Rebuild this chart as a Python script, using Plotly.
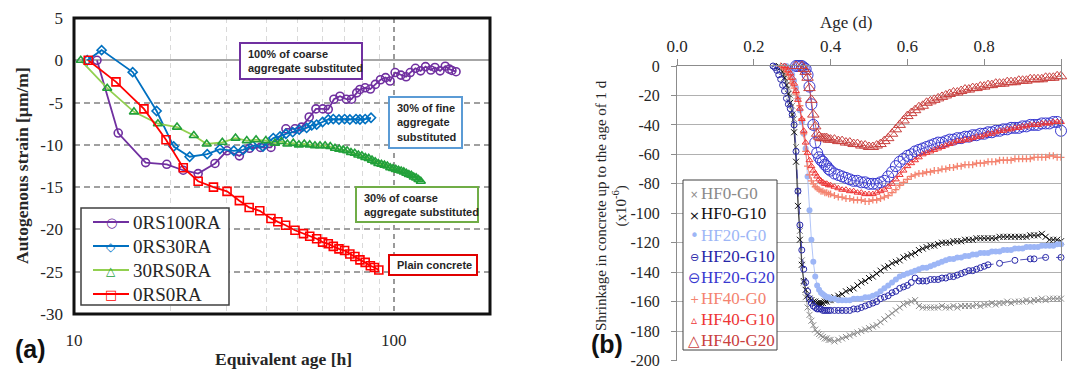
import math
import plotly.graph_objects as go

W, H = 1070, 371
SERIF = "Liberation Serif, Times New Roman, serif"
SANS = "Liberation Sans, Arial, sans-serif"
SYMF = "DejaVu Sans, sans-serif"

# ---------------- panel (a): autogenous strain vs equivalent age ----------------
age_100ra = [11.8, 13.75, 16.75, 19.5, 21.95, 24.45, 27.6, 30.1, 32.9, 35.4, 38.3, 41.3,
             46.0, 49.1, 51.5, 54.4, 57.1, 60.0, 62.4, 65.0, 67.9, 71.1, 73.8, 76.6, 78.4,
             81.4, 84.5, 87.6, 90.9, 94.3, 97.4, 101.0, 105.3, 109.3, 112.6, 116.9, 121.3,
             125.7, 130.6, 134.5, 139.6, 144.9, 149.2, 152.0, 156.6]
strain_100ra = [0, -8.6, -12.1, -12.3, -13.0, -13.4, -12.2, -10.7, -11.3, -10.4, -10.3, -10.3,
                -8.1, -8.1, -7.9, -6.7, -5.75, -5.75, -5.8, -4.6, -4.25, -4.6, -4.6, -3.85, -3.45,
                -3.25, -3.4, -2.85, -2.3, -2.05, -2.45, -1.45, -1.75, -1.95, -1.45, -0.95, -1.25,
                -0.75, -1.15, -0.85, -1.25, -0.7, -1.05, -1.2, -1.35]

age_30ra = [11.0, 12.2, 15.26, 18.13, 20.5, 23.0, 26.1, 28.6, 31.6, 33.8, 36.2, 39.0, 42.0,
            44.1, 46.0, 48.3, 50.6, 53.4, 55.4, 57.4, 59.9, 62.4, 64.7, 67.4, 70.2, 72.9, 76.2,
            78.4, 81.4, 84.9]
strain_30ra = [0, 1.2, -1.4, -6.0, -10.2, -11.4, -11.1, -10.5, -10.7, -10.6, -10.1, -10.2, -9.2,
               -9.0, -8.7, -8.5, -8.2, -8.0, -7.7, -7.6, -7.3, -7.0, -6.95, -7.0, -6.95, -7.0, -6.95,
               -7.0, -6.95, -6.8]

age_30rs = [10.5, 12.7, 15.4, 18.3, 21.0, 23.7, 26.0, 29.1, 32.0, 34.7, 37.1, 39.8, 42.5, 44.5,
            46.5, 48.5, 50.5, 52.5, 54.6, 56.7, 58.8, 61.0, 63.3, 65.5, 67.5, 69.5, 71.5, 73.5,
            75.5, 77.5, 79.5, 81.5, 83.5, 85.5, 87.5, 89.5, 91.5, 93.5, 95.5, 97.5, 99.5, 101.5,
            103.5, 105.5, 107.5, 109.5, 111.5, 113.5, 115.5, 117.5, 119.5, 121.5]
strain_30rs = [0, -3.3, -6.1, -7.5, -7.9, -8.9, -9.9, -9.7, -9.2, -9.5, -9.4, -9.5, -9.8, -9.6,
               -9.9, -9.8, -10.0, -9.9, -10.0, -10.1, -10.1, -10.1, -10.2, -10.4, -10.5, -10.6,
               -10.7, -10.9, -11.0, -11.2, -11.3, -11.5, -11.6, -11.8, -12.0, -12.2, -12.3, -12.4,
               -12.5, -12.7, -12.8, -12.9, -13.0, -13.1, -13.2, -13.35, -13.5, -13.6, -13.8,
               -13.9, -14.1, -14.3]

age_plain = [11.08, 13.53, 16.55, 19.4, 21.96, 24.45, 27.3, 30.1, 32.9, 35.3, 38.1, 41.3, 43.4,
             45.9, 49.1, 52.2, 54.6, 57.4, 59.9, 62.4, 64.7, 67.4, 70.2, 72.9, 75.6, 78.4, 81.4,
             84.5, 87.0, 89.8]
strain_plain = [0, -2.55, -5.75, -9.4, -12.7, -14.3, -15.0, -15.5, -16.6, -17.4, -17.8, -18.7,
                -19.1, -19.5, -20.1, -20.5, -20.8, -21.1, -21.5, -21.7, -22.0, -22.3, -22.5, -22.9,
                -23.2, -23.6, -23.9, -24.3, -24.5, -24.8]

a_xtick_vals = [10, 100]
a_xtick_text = ["10", "100"]
a_xminor_vals = [20, 30, 40, 50, 60, 70, 80, 90]
a_ytick_vals = [5, 0, -5, -10, -15, -20, -25, -30]
a_ytick_text = ["5", "0", "-5", "-10", "-15", "-20", "-25", "-30"]

# ---------------- panel (b): shrinkage up to 1 day ----------------
age_d = [0.250, 0.255, 0.260, 0.265, 0.270, 0.275, 0.280, 0.285, 0.290, 0.295,
         0.300, 0.305, 0.310, 0.315, 0.320, 0.325, 0.330, 0.335, 0.340, 0.345,
         0.350, 0.355, 0.360, 0.365, 0.370, 0.375, 0.380, 0.385, 0.390, 0.395,
         0.400,
         0.41, 0.42, 0.43, 0.44, 0.45, 0.46, 0.47, 0.48, 0.49, 0.50,
         0.51, 0.52, 0.53, 0.54, 0.55, 0.56, 0.57, 0.58, 0.59, 0.60,
         0.61, 0.62, 0.63, 0.64, 0.65, 0.66, 0.67, 0.68, 0.69, 0.70,
         0.71, 0.72, 0.73, 0.74, 0.75, 0.76, 0.77, 0.78, 0.79, 0.80,
         0.81, 0.82, 0.83, 0.84, 0.85, 0.86, 0.87, 0.88, 0.89, 0.90,
         0.91, 0.92, 0.93, 0.94, 0.95, 0.96, 0.97, 0.98, 0.99, 1.00]

hf0_g0 = [None, None, None, 0, -1, -3, -6, -10, -15, -20,
          -27, -36, -55, -85, -112, -132, -147, -157, -164, -169,
          -173, -176, -179, -181, -182, -183, -184, -185, -185, -186,
          -186,
          -187, -186, -185, -184, -183, -182, -181, -180, -179, -178,
          -177, -176, -174, -172, -170, -168, -166, -164, -162, -161,
          -160, -159, -163, -164, -164, -164, -164, -164, -163, -164,
          -164, -163, -164, -163, -163, -163, -163, -162, -163, -162,
          -162, -161, -162, -161, -161, -160, -161, -160, -160, -160,
          -159, -160, -159, -159, -158, -159, -158, -158, -158, -158]

hf0_g10 = [None, None, None, 0, -1, -4, -8, -13, -19, -25,
           -33, -45, -65, -95, -118, -135, -146, -152, -156, -158,
           -159, -160, -160, -161, -161, -161, -161, -160, -160, -159,
           -159,
           -157, -156, -155, -153, -152, -151, -149, -147, -146, -144,
           -143, -141, -139, -137, -136, -134, -133, -132, -130, -129,
           -128, -127, -125, -124, -123, -122, -122, -121, -120, -120,
           -120, -119, -119, -119, -118, -118, -118, -117, -117, -117,
           -117, -117, -117, -116, -116, -116, -116, -116, -116, -116,
           -116, -115, -115, -115, -114, -116, -118, -118, -118, -119]

hf20_g0 = [None, None, None, None, None, None, 0, 0, -1, -3,
           -6, -10, -15, -22, -30, -38, -46, -56, -75, -98,
           -118, -133, -143, -149, -152, -154, -155, -156, -157, -157,
           -158,
           -158, -159, -159, -159, -159, -158, -158, -158, -157, -157,
           -156, -155, -153, -151, -149, -147, -145, -143, -142, -141,
           -140, -139, -138, -137, -137, -136, -135, -134, -133, -132,
           -131, -131, -130, -130, -129, -129, -128, -128, -127, -127,
           -127, -126, -126, -126, -125, -125, -125, -124, -124, -124,
           -123, -123, -123, -123, -122, -122, -122, -122, -121, -121]

hf20_g10 = [0, -1, -3, -6, -9, -13, -17, -22, -26, -29,
            -33, -40, -58, -85, -108, -125, -138, -147, -153, -158,
            -161, -163, -164, -165, -165, -165, -166, -166, -166, -166,
            -166,
            -166, -166, -166, -166, -166, -165, -165, -164, -163, -162,
            -161, -160, -158, -157, -156, -154, -153, -151, -150, -149,
            -147, -144, -146, -146, -146, -145, -145, -145, -144, -144,
            -143, -143, -142, -141, -140, -139, -139, -138, -137, -136,
            -135, None, None, -134, None, None, None, -132, None, None,
            None, -131, -131, None, None, -130, None, None, None, -130]

hf20_g20 = [None, None, None, None, None, None, None, None, None, None,
            None, None, 0, 0, 0, 0, -1, -2, -6, -14,
            -26, -40, -52, -59, -62, -64, -65, -67, -68, -70,
            -71,
            -73, -74, -75, -76, -77, -78, -78, -79, -79, -80,
            -80, -80, -79, -78, -75, -72, -68, -65, -63, -61,
            -60, -58, -57, -56, -55, -54, -53, -52, -52, -51,
            -50, -50, -49, -49, -48, -48, -47, -47, -46, -46,
            -45, -45, -44, -44, -43, -43, -42, -42, -42, -41,
            -41, -40, -40, -40, -39, -39, -39, -38, -38, -44]

hf40_g0 = [None, None, None, None, 0, -1, -2, -4, -6, -9,
           -12, -15, -19, -22, -27, -36, -46, -58, -68, -74,
           -78, -80, -82, -83, -84, -85, -85, -86, -86, -87,
           -87,
           -88, -89, -89, -90, -90, -91, -91, -91, -92, -92,
           -91, -91, -90, -89, -88, -86, -84, -81, -79, -77,
           -75, -74, -73, -73, -72, -72, -71, -71, -70, -70,
           -69, -69, -68, -68, -67, -67, -67, -66, -66, -66,
           -65, -65, -65, -64, -64, -64, -64, -63, -63, -63,
           -63, -63, -62, -62, -62, -62, -61, -61, -62, -62]

hf40_g10 = [None, None, None, None, None, None, 0, -1, -3, -5,
            -8, -12, -17, -23, -29, -36, -44, -52, -59, -64,
            -68, -71, -73, -75, -77, -78, -79, -80, -80, -81,
            -81,
            -82, -83, -84, -84, -85, -85, -86, -86, -87, -87,
            -87, -86, -85, -84, -82, -80, -77, -74, -71, -68,
            -66, -64, -62, -60, -59, -58, -57, -56, -55, -54,
            -53, -52, -51, -51, -50, -50, -49, -48, -48, -47,
            -46, -46, -45, -44, -44, -43, -43, -42, -42, -41,
            -41, -40, -40, -40, -39, -39, -39, -38, -38, -38]

hf40_g20 = [None, None, None, None, None, None, None, None, None, None,
            None, None, 0, 1, 1, 0, -2, -4, -8, -15,
            -23, -33, -41, -46, -48, -49, -49, -49, -49, -50,
            -50,
            -50, -51, -51, -52, -52, -53, -53, -54, -54, -55,
            -55, -54, -53, -51, -49, -46, -43, -40, -37, -34,
            -32, -30, -28, -27, -25, -24, -23, -22, -21, -20,
            -19, -18, -18, -17, -16, -16, -15, -15, -14, -14,
            -13, -13, -12, -12, -12, -11, -11, -11, -10, -10,
            -10, -9, -9, -9, -9, -8, -8, -8, -7, -7]

b_xtick_vals = [0.0, 0.2, 0.4, 0.6, 0.8, 1.0]
b_xtick_text = ["0.0", "0.2", "0.4", "0.6", "0.8", "1.0"]
b_ytick_vals = [0, -20, -40, -60, -80, -100, -120, -140, -160, -180, -200]
b_ytick_text = ["0", "-20", "-40", "-60", "-80", "-100", "-120", "-140", "-160", "-180", "-200"]


def px_x(v):
    return v / W


def px_y(v):
    return 1 - v / H


def label(x, y, text, font, angle=0, xa="center", ya="middle", align="center"):
    fig.add_annotation(xref="paper", yref="paper", x=px_x(x), y=px_y(y), text=text,
                       showarrow=False, xanchor=xa, yanchor=ya, align=align,
                       textangle=angle, font=font)


fig = go.Figure()

# panel (a) series: (name, x, y, line colour, marker colour, marker, size, legend glyph, glyph size)
left_series = [
    ("0RS100RA", age_100ra, strain_100ra, "#7030A0", "#7030A0", "circle-open", 8, "○", 13),
    ("0RS30RA", age_30ra, strain_30ra, "#0070C0", "#0070C0", "diamond-open", 7, "◇", 12),
    ("30RS0RA", age_30rs, strain_30rs, "#92D050", "#22A03A", "triangle-up-open", 8, "△", 12),
    ("0RS0RA", age_plain, strain_plain, "#FF0000", "#FF0000", "square-open", 8, "□", 13),
]
for name, xs, ys, lc, mc, sym, sz, _g, _gs in left_series:
    fig.add_trace(go.Scatter(
        x=xs, y=ys, name=name, mode="lines+markers", showlegend=False,
        line=dict(color=lc, width=1.8),
        marker=dict(symbol=sym, size=sz, color=mc, line=dict(color=mc, width=1.6)),
        xaxis="x", yaxis="y", cliponaxis=False,
    ))

# panel (b) series: (name, values, colour, marker, size, marker line, line dash, legend glyph, glyph size)
right_series = [
    ("HF0-G0", hf0_g0, "#8A8A8A", "x-thin", 6, 1.0, "solid", "×", 10),
    ("HF0-G10", hf0_g10, "#111111", "x-thin", 6, 1.0, "solid", "×", 13),
    ("HF20-G0", hf20_g0, "#9DB6F6", "circle", 6, 0, "solid", "•", 15),
    ("HF20-G10", hf20_g10, "#2626A8", "circle-open", 6, 1.0, "dash", "⊖", 11),
    ("HF20-G20", hf20_g20, "#3838D0", "circle-open", 11, 1.0, "solid", "⊖", 15),
    ("HF40-G0", hf40_g0, "#F4836F", "cross-thin", 5, 1.3, "solid", "+", 11),
    ("HF40-G10", hf40_g10, "#EE3535", "triangle-up-open", 6, 1.0, "solid", "▵", 12),
    ("HF40-G20", hf40_g20, "#C9403E", "triangle-up-open", 10, 1.0, "solid", "△", 15),
]
for name, ys, col, sym, sz, lw, dash, _g, _gs in right_series:
    mk = dict(symbol=sym, size=sz, color=col)
    if lw:
        mk["line"] = dict(color=col, width=lw)
    fig.add_trace(go.Scatter(
        x=age_d, y=ys, name=name, showlegend=False,
        mode="lines+markers", connectgaps=True,
        line=dict(color=col, width=0.8, dash=dash),
        marker=mk, xaxis="x2", yaxis="y2", cliponaxis=False,
    ))

tick_font_a = dict(family=SERIF, size=17, color="#262626")
fig.update_layout(
    width=W, height=H, margin=dict(l=0, r=0, t=0, b=0, autoexpand=False),
    paper_bgcolor="white", plot_bgcolor="white", showlegend=False,
    xaxis=dict(
        domain=[px_x(74), px_x(490)], anchor="y", type="log",
        range=[1, math.log10(200)],
        tickmode="array", tickvals=a_xtick_vals, ticktext=a_xtick_text,
        showgrid=True, gridcolor="#9a9a9a", gridwidth=1.5, griddash="5px,4px",
        minor=dict(tickmode="array", tickvals=a_xminor_vals, showgrid=True,
                   gridcolor="#d9d9d9", gridwidth=1, ticks=""),
        ticks="", ticklabelstandoff=14, zeroline=False, showline=False,
        tickfont=tick_font_a,
    ),
    yaxis=dict(
        domain=[px_y(314), px_y(18)], anchor="x", range=[-30, 5],
        tickmode="array", tickvals=a_ytick_vals, ticktext=a_ytick_text,
        showgrid=True, gridcolor="#a0a0a0", gridwidth=1.5, griddash="6px,4px",
        zeroline=True, zerolinecolor="#a6a6a6", zerolinewidth=1.5,
        ticks="", ticklabelstandoff=10, showline=False, tickfont=tick_font_a,
    ),
    xaxis2=dict(
        domain=[px_x(677), px_x(1061)], anchor="y2", side="top", range=[0, 1],
        tickmode="array", tickvals=b_xtick_vals, ticktext=b_xtick_text,
        showgrid=False, zeroline=False, showline=True, linecolor="#8c8c8c", linewidth=1,
        ticks="outside", ticklen=6, tickcolor="#8c8c8c",
        tickfont=dict(family=SERIF, size=17, color="#262626"),
    ),
    yaxis2=dict(
        domain=[px_y(360.5), px_y(66)], anchor="x2", range=[-200, 0],
        tickmode="array", tickvals=b_ytick_vals, ticktext=b_ytick_text,
        showgrid=True, gridcolor="#b0b0b0", gridwidth=1, zeroline=False,
        showline=True, linecolor="#8c8c8c", linewidth=1, mirror=True,
        ticks="outside", ticklen=5, tickcolor="#8c8c8c", ticklabelstandoff=8,
        tickfont=dict(family=SERIF, size=16, color="#262626"),
    ),
)

# heavy frame around panel (a)
fig.add_shape(type="rect", xref="paper", yref="paper",
              x0=px_x(74), x1=px_x(490), y0=px_y(314), y1=px_y(18),
              line=dict(color="#111111", width=3), layer="above")

# labelled boxes in panel (a)
boxes = [
    (240, 362, 43, 79, "#7030A0", "100% of coarse<br>aggregate substituted"),
    (389, 462, 97, 148, "#5B9BD5", "30% of fine<br>aggregate<br>substituted"),
    (356, 478, 187, 222, "#70AD47", "30% of coarse<br>aggregate substituted"),
    (389, 477, 255, 275, "#E00000", "Plain concrete"),
]
for x0, x1, y0, y1, col, txt in boxes:
    fig.add_shape(type="rect", xref="paper", yref="paper",
                  x0=px_x(x0), x1=px_x(x1), y0=px_y(y1), y1=px_y(y0),
                  line=dict(color=col, width=2), fillcolor="white", layer="above")
    label(x0 + 6, (y0 + y1) / 2, f"<b>{txt}</b>",
          dict(family=SANS, size=11, color="#262626"), xa="left", align="left")

# legend for panel (a)
fig.add_shape(type="rect", xref="paper", yref="paper",
              x0=px_x(81), x1=px_x(229), y0=px_y(305), y1=px_y(208),
              line=dict(color="#404040", width=1.5), fillcolor="white", layer="above")
for i, (name, _x, _y, lc, mc, _s, _z, glyph, gsize) in enumerate(left_series):
    yc = 222 + i * 24
    fig.add_shape(type="line", xref="paper", yref="paper",
                  x0=px_x(93), x1=px_x(129), y0=px_y(yc), y1=px_y(yc),
                  line=dict(color=lc, width=1.8), layer="above")
    label(111, yc + 0.5, glyph, dict(family=SYMF, size=gsize, color=mc))
    label(131, yc, name, dict(family=SERIF, size=19, color="#262626"), xa="left")

# legend for panel (b)
fig.add_shape(type="rect", xref="paper", yref="paper",
              x0=px_x(683), x1=px_x(777), y0=px_y(350), y1=px_y(180),
              line=dict(color="#404040", width=1), fillcolor="white", layer="above")
for i, (name, _v, col, _s, _z, _l, _d, glyph, gsize) in enumerate(right_series):
    yc = 193 + i * 21
    label(694, yc + 1, glyph, dict(family=SYMF, size=gsize, color=col))
    label(699, yc, name, dict(family=SERIF, size=17, color=col), xa="left")

# axis titles and panel letters
label(283, 359, "<b>Equivalent age [h]</b>", dict(family=SERIF, size=17.5, color="#262626"))
label(22, 166, "<b>Autogenous strain [µm/m]</b>",
      dict(family=SERIF, size=17.5, color="#262626"), angle=-90)
label(846, 22, "Age (d)", dict(family=SERIF, size=17, color="#262626"))
label(611, 206, "Shrinkage in concrete up to the age of 1 d<br>(x10<sup>-6</sup>)",
      dict(family=SERIF, size=15, color="#262626"), angle=-90)
label(30, 349, "<b>(a)</b>", dict(family=SANS, size=25, color="#111111"))
label(607, 344, "<b>(b)</b>", dict(family=SANS, size=25, color="#111111"))

fig.write_html("out.html")
